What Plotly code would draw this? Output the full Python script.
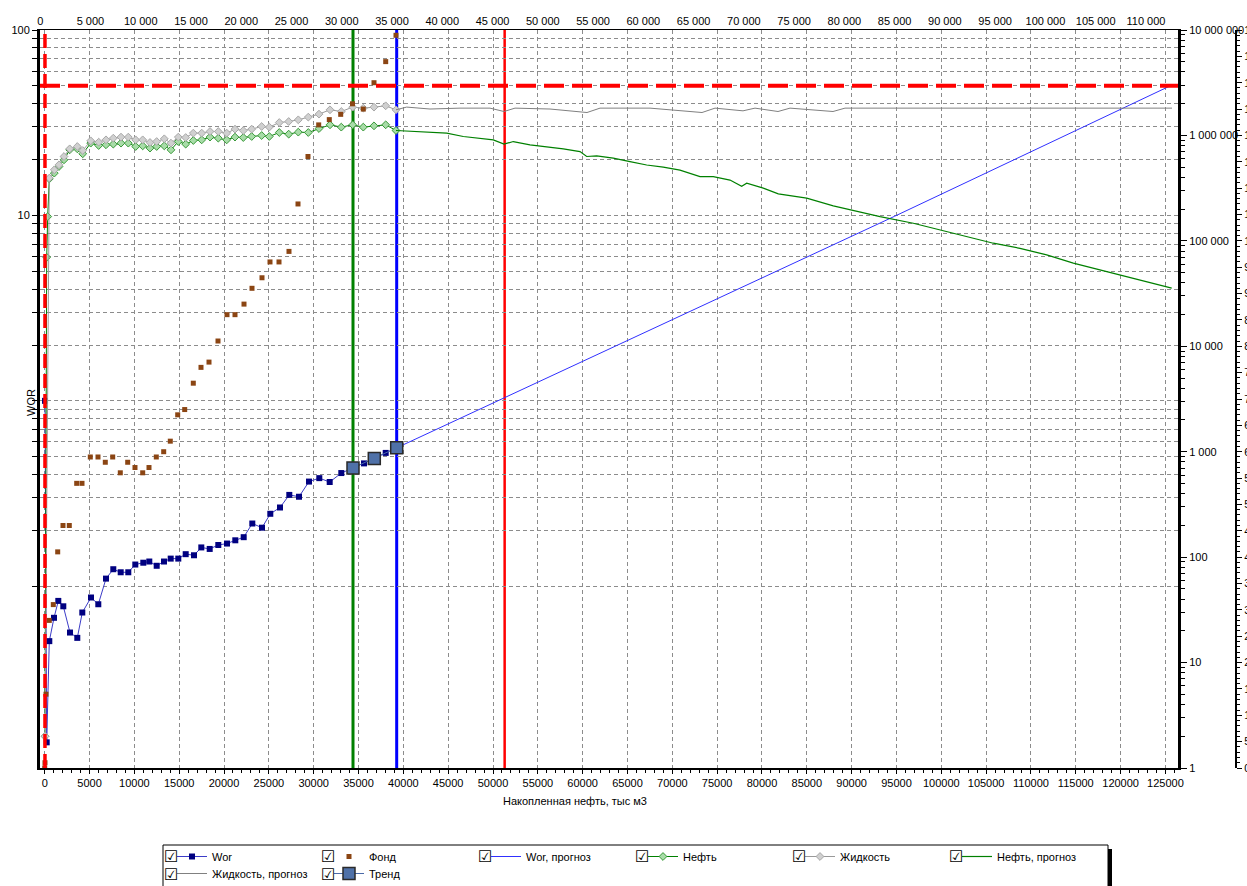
import plotly.graph_objects as go

# ---------------- data ----------------
cum_oil_wor = [33, 223, 513, 1037, 1517, 2075, 2822, 3636, 4194, 5164,
               5978, 6837, 7651, 8477, 9324, 10105, 10997, 11666, 12492, 13306,
               14053, 14901, 15726, 16652, 17466, 18403, 19362, 20332, 21258, 22195,
               23154, 24236, 25162, 26244, 27281, 28363, 29478, 30627, 31787, 33081,
               34386, 35612, 36761, 38033, 39259]
wor = [1.0, 0.0144, 0.0506, 0.0676, 0.0834, 0.078, 0.0563, 0.0527, 0.0722, 0.087,
       0.080, 0.110, 0.1236, 0.119, 0.119, 0.131, 0.134, 0.136, 0.129, 0.136,
       0.141, 0.141, 0.149, 0.147, 0.162, 0.159, 0.167, 0.170, 0.177, 0.184,
       0.218, 0.207, 0.246, 0.266, 0.311, 0.304, 0.367, 0.383, 0.365, 0.408,
       0.435, 0.460, 0.489, 0.524, 0.558]

cum_oil_fond = [0, 33, 145, 513, 959, 1450, 2041, 2744, 3569, 4160,
                5086, 5945, 6759, 7584, 8432, 9257, 10071, 10930, 11633, 12447,
                13272, 14009, 14834, 15615, 16574, 17433, 18325, 19329, 20333, 21225,
                22229, 23121, 24236, 25128, 26132, 27247, 28251, 29366, 30560, 31742,
                33014, 34330, 35535, 36728, 38033, 39182]
fond = [0, 1, 14, 28, 31, 41, 46, 46, 54, 54,
        59, 59, 58, 59, 56, 58, 57, 56, 57, 59,
        60, 62, 67, 68, 73, 76, 77, 81, 86, 86,
        88, 91, 93, 96, 96, 98, 107, 116, 122, 123,
        124, 126, 125, 130, 134, 139]

cum_oil_hist = [513, 1071, 1595, 2153, 2788, 3636, 4238, 5131, 6023, 6837,
                7651, 8510, 9324, 10149, 10930, 11744, 12492, 13339, 14086, 14901,
                15726, 16574, 17511, 18436, 19362, 20299, 21225, 22150, 23087, 24202,
                25050, 26165, 27214, 28285, 29400, 30593, 31820, 33080, 34352, 35534,
                36727, 38032, 39181]
oil_early_x = [33, 223, 335]
oil_early = [2, 70000, 170000]
liquid_early_x = [33]
liquid_early = [2]
oil = [387000, 439000, 507000, 587000, 730000, 746000, 669000, 845000, 802000, 815000,
       827000, 845000, 845000, 785000, 796000, 758000, 785000, 796000, 730000, 875000,
       827000, 895000, 908000, 964000, 942000, 908000, 964000, 955000, 977000, 998000,
       977000, 1066000, 1028000, 1075000, 1066000, 1162000, 1261000, 1199000, 1261000, 1199000,
       1233000, 1261000, 1114000]
liquid = [394000, 472000, 526000, 631000, 746000, 785000, 719000, 889000, 863000, 908000,
          942000, 964000, 964000, 908000, 908000, 857000, 875000, 929000, 845000, 964000,
          955000, 1052000, 1052000, 1089000, 1089000, 1052000, 1148000, 1112000, 1148000, 1215000,
          1199000, 1325000, 1355000, 1406000, 1492000, 1593000, 1750000, 1686000, 1855000, 1814000,
          1855000, 1910000, 1750000]

cum_oil_oil_fc = [39181, 41111, 42974, 44836, 46687, 48550, 50033, 51227, 52264, 54127,
                  55990, 57841, 59703, 60451, 61566, 63418, 65280, 67142, 68994, 70857,
                  73087, 74571, 76433, 77738, 78296, 80147, 81820, 84988, 87955, 90565,
                  93164, 96878, 99855, 102833, 105800, 108778, 111756, 114725, 117700, 120678,
                  123645, 125697]
oil_fc = [1114000, 1089000, 1066000, 1052000, 977000, 942000, 908000, 827000, 875000, 815000,
          785000, 746000, 703000, 631000, 640000, 609000, 565000, 524000, 500000, 469000,
          407000, 407000, 377000, 330000, 352000, 316000, 279000, 254000, 215000, 190000,
          170000, 147000, 127000, 110000, 95000, 85000, 73600, 61400, 53100, 45800,
          39700, 35600]

cum_oil_liq_fc = [39181, 40375, 42974, 46320, 49665, 51227, 52454, 56358, 60484, 61934,
                  67511, 73310, 74760, 77883, 79221, 81787, 83125, 87921, 89259, 95393,
                  102085, 108777, 117700, 125731]
liquid_fc = [1750000, 1857000, 1780000, 1815000, 1815000, 1686000, 1815000, 1780000, 1649000, 1815000,
             1815000, 1649000, 1815000, 1711000, 1815000, 1686000, 1815000, 1686000, 1815000, 1815000,
             1815000, 1815000, 1815000, 1815000]

cum_oil_wor_fc = [39259, 51300, 94800, 125540]
wor_fc = [0.558, 1.04, 9.9, 50]

cum_oil_trend = [34386, 36761, 39259]
wor_trend = [0.435, 0.489, 0.558]

start_line_x = 30          # red dashed vertical
wor_limit = 50             # red dashed horizontal
trend_start_x = 34386      # green vertical
trend_end_x = 39259        # blue vertical
wor_one_x = 51300          # red solid vertical

bottom_ticks = list(range(0, 125001, 5000))
bottom_labels = [str(v) for v in bottom_ticks]
top_ticks = list(range(0, 110001, 5000))
top_labels = [f"{v:,}".replace(",", " ") for v in top_ticks]
right_ticks = [10 ** k for k in range(0, 8)]
right_labels = [f"{v:,}".replace(",", " ") for v in right_ticks]
right_minor = [m * 10 ** k for k in range(0, 7) for m in range(2, 10)]
left_ticks = [m * 10 ** k for k in range(-1, 2) for m in range(1, 10)] + [100]
left_labels = ["100" if v == 100 else ("10" if v == 10 else "") for v in left_ticks]
fond_ticks = list(range(0, 141, 5))
fond_labels = [str(v) for v in fond_ticks]

legend_row1 = ["Wor", "Фонд", "Wor, прогноз", "Нефть", "Жидкость", "Нефть, прогноз"]
legend_row2 = ["Жидкость, прогноз", "Тренд"]

# ---------------- layout helpers ----------------
W, H = 1247, 886
ML, MR, MT, MB = 40, 11, 30, 118
PW = W - ML - MR
PH = H - MT - MB


def pxx(xp):
    return (xp - ML) / PW


def pyy(yp):
    return (H - MB - yp) / PH


XEND = pxx(1178)
FONT = "Arial, Liberation Sans, sans-serif"

fig = go.Figure()

fig.add_trace(go.Scatter(
    x=cum_oil_wor, y=wor, name="Wor", mode="lines+markers", yaxis="y",
    line=dict(color="#3c3cc8", width=1),
    marker=dict(symbol="square", size=6, color="#000080"), legend="legend"))
fig.add_trace(go.Scatter(
    x=cum_oil_fond, y=fond, name="Фонд", mode="markers", yaxis="y3",
    marker=dict(symbol="square", size=5, color="#8B4513"), legend="legend"))
fig.add_trace(go.Scatter(
    x=cum_oil_wor_fc, y=wor_fc, name="Wor, прогноз", mode="lines", yaxis="y",
    line=dict(color="#3030ff", width=1), legend="legend"))
fig.add_trace(go.Scatter(
    x=oil_early_x + cum_oil_hist, y=oil_early + oil, name="Нефть", mode="lines+markers",
    yaxis="y2", line=dict(color="#008000", width=1),
    marker=dict(symbol="diamond", size=6, color="#a8dca8", line=dict(color="#3a9a3a", width=1)),
    legend="legend"))
fig.add_trace(go.Scatter(
    x=liquid_early_x + cum_oil_hist, y=liquid_early + liquid, name="Жидкость",
    mode="lines+markers", yaxis="y2", line=dict(color="#999999", width=1),
    marker=dict(symbol="diamond", size=6, color="#d0d0d0", line=dict(color="#a8a8a8", width=1)),
    legend="legend"))
fig.add_trace(go.Scatter(
    x=cum_oil_oil_fc, y=oil_fc, name="Нефть, прогноз", mode="lines", yaxis="y2",
    line=dict(color="#008000", width=1.2), legend="legend"))
fig.add_trace(go.Scatter(
    x=cum_oil_liq_fc, y=liquid_fc, name="Жидкость, прогноз", mode="lines", yaxis="y2",
    line=dict(color="#808080", width=1), legend="legend2"))
fig.add_trace(go.Scatter(
    x=cum_oil_trend, y=wor_trend, name="Тренд", mode="lines+markers", yaxis="y",
    line=dict(color="#4a6aa8", width=1),
    marker=dict(symbol="square", size=12, color="#4f71a8", line=dict(color="#2a2a2a", width=1.5)),
    legend="legend2"))
# empty trace so that the top (secondary) x axis is drawn
fig.add_trace(go.Scatter(x=[], y=[], xaxis="x2", yaxis="y", showlegend=False,
                         hoverinfo="skip", mode="lines"))

shapes = [
    dict(type="line", xref="x", yref="paper", x0=trend_start_x, x1=trend_start_x, y0=0, y1=1,
         line=dict(color="#008000", width=3), layer="below"),
    dict(type="line", xref="x", yref="paper", x0=trend_end_x, x1=trend_end_x, y0=0, y1=1,
         line=dict(color="#0000ff", width=3), layer="below"),
    dict(type="line", xref="x", yref="paper", x0=wor_one_x, x1=wor_one_x, y0=0, y1=1,
         line=dict(color="#ff0000", width=2.5), layer="below"),
    dict(type="line", xref="x", yref="paper", x0=start_line_x, x1=start_line_x, y0=0, y1=1,
         line=dict(color="#ff0000", width=3.5, dash="14px,6px"), layer="above"),
    dict(type="line", xref="x domain", yref="y", x0=0, x1=1, y0=wor_limit, y1=wor_limit,
         line=dict(color="#ff0000", width=4, dash="20px,8px"), layer="above"),
    # legend box + shadow
    dict(type="rect", xref="paper", yref="paper", x0=pxx(167), x1=pxx(1112), y0=pyy(849), y1=pyy(905),
         line=dict(width=0), fillcolor="black", layer="above"),
    dict(type="rect", xref="paper", yref="paper", x0=pxx(163), x1=pxx(1108), y0=pyy(845), y1=pyy(901),
         line=dict(width=1, color="black"), fillcolor="white", layer="above"),
]

annotations = [
    dict(text="WOR", xref="paper", yref="paper", x=pxx(31), y=pyy(403), textangle=-90,
         showarrow=False, font=dict(size=11, family=FONT, color="black"),
         xanchor="center", yanchor="middle"),
    dict(text="Накопленная нефть, тыс м3", xref="paper", yref="paper", x=pxx(575), y=pyy(801),
         showarrow=False, font=dict(size=11, family=FONT, color="black"),
         xanchor="center", yanchor="middle"),
]
for row, yc in ((legend_row1, 856), (legend_row2, 874)):
    for i, _ in enumerate(row):
        annotations.append(dict(text="☑", xref="paper", yref="paper", x=pxx(171 + 157 * i), y=pyy(yc),
                                showarrow=False, font=dict(size=16, family="DejaVu Sans", color="black"),
                                xanchor="center", yanchor="middle"))

axis_font = dict(size=11, family=FONT, color="black")
legend_common = dict(orientation="h", xanchor="left", yanchor="top", entrywidth=112,
                     entrywidthmode="pixels", bgcolor="rgba(0,0,0,0)", borderwidth=0,
                     font=dict(size=11, family=FONT, color="black"), itemsizing="trace",
                     traceorder="normal", x=pxx(172))

fig.update_layout(
    width=W, height=H, template="none",
    margin=dict(l=ML, r=MR, t=MT, b=MB, autoexpand=False),
    paper_bgcolor="white", plot_bgcolor="white",
    font=dict(family=FONT, size=11, color="black"),
    showlegend=True,
    legend=dict(legend_common, y=pyy(842)),
    legend2=dict(legend_common, y=pyy(859)),
    xaxis=dict(domain=[0, XEND], range=[-524, 126400], tickmode="array", tickvals=bottom_ticks,
               ticktext=bottom_labels, ticks="outside", ticklen=4, tickcolor="black",
               showline=True, linewidth=2, linecolor="black", zeroline=False,
               showgrid=True, gridcolor="#8c8c8c", gridwidth=1, griddash="4px,3px",
               tickfont=axis_font, automargin=False,
               minor=dict(dtick=1000, tick0=0, ticks="outside", ticklen=3, tickcolor="black",
                          showgrid=False)),
    xaxis2=dict(domain=[0, XEND], overlaying="x", side="top", anchor="y",
                range=[-20, 113190], tickmode="array", tickvals=top_ticks, ticktext=top_labels,
                ticks="", showline=True, linewidth=1, linecolor="black", showgrid=False,
                zeroline=False, tickfont=axis_font, automargin=False),
    yaxis=dict(type="log", range=[-1.98, 2], tickmode="array", tickvals=left_ticks,
               ticktext=left_labels, ticks="outside", ticklen=5, tickcolor="black",
               showline=True, linewidth=3, linecolor="black", zeroline=False,
               showgrid=True, gridcolor="#8c8c8c", gridwidth=1, griddash="4px,3px",
               tickfont=axis_font, automargin=False),
    yaxis2=dict(type="log", range=[0, 7], overlaying="y", side="right", anchor="x",
                tickmode="array", tickvals=right_ticks, ticktext=right_labels,
                ticks="outside", ticklen=6, tickcolor="black", showline=True, linewidth=3,
                linecolor="black", showgrid=False, zeroline=False, tickfont=axis_font,
                automargin=False,
                minor=dict(tickmode="array", tickvals=right_minor, ticks="outside", ticklen=4,
                           tickcolor="black", showgrid=False)),
    yaxis3=dict(range=[0, 140], overlaying="y", side="right", anchor="free", position=1,
                tickmode="array", tickvals=fond_ticks, ticktext=fond_labels,
                ticks="outside", ticklen=5, tickcolor="black", showline=True, linewidth=2,
                linecolor="black", showgrid=False, zeroline=False, tickfont=axis_font,
                automargin=False,
                minor=dict(dtick=1, tick0=0, ticks="outside", ticklen=3, tickcolor="black",
                           showgrid=False)),
    shapes=shapes,
    annotations=annotations,
)

fig.write_html("out.html")
